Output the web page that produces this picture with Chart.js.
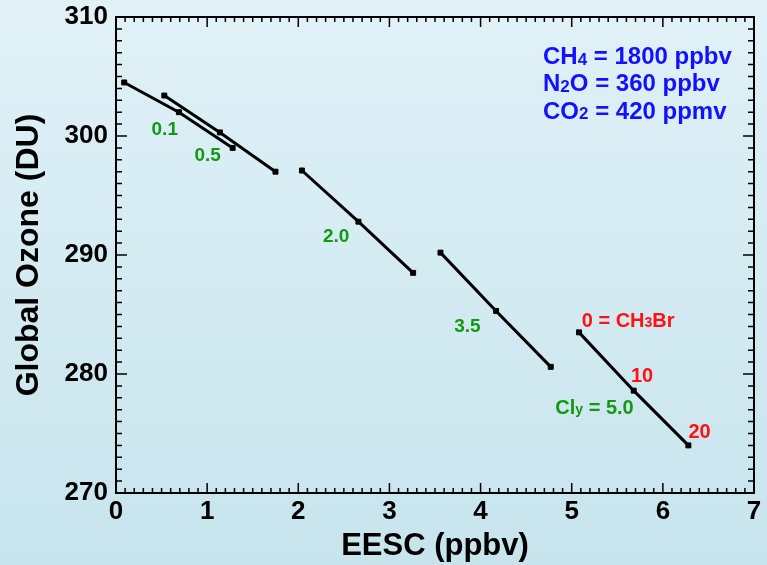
<!DOCTYPE html>
<html>
<head>
<meta charset="utf-8">
<script src="https://cdn.jsdelivr.net/npm/chart.js@4"></script>
<style>
  html, body { margin: 0; padding: 0; }
  #wrap { width: 767px; height: 565px; }
</style>
</head>
<body>
<div id="wrap"><canvas id="c"></canvas></div>
<script>
// EESC (ppbv) / global ozone (DU) for each Cly case, points at CH3Br = 0, 10, 20
const clyLabels = ['0.1', '0.5', '2.0', '3.5', '5.0'];
const eescValues = [
  [0.09, 0.69, 1.28],
  [0.53, 1.14, 1.75],
  [2.04, 2.66, 3.26],
  [3.56, 4.17, 4.77],
  [5.08, 5.68, 6.28]
];
const ozoneValues = [
  [304.5, 302.0, 299.0],
  [303.4, 300.3, 297.0],
  [297.1, 292.8, 288.5],
  [290.2, 285.3, 280.6],
  [283.5, 278.6, 274.0]
];
const xTicks = [0, 1, 2, 3, 4, 5, 6, 7];
const yTicks = [270, 280, 290, 300, 310];

const FONT = '"Liberation Sans", Arial, Helvetica, sans-serif';
const GREEN = '#119911';
const RED = '#ff1111';
const BLUE = '#1111ff';

// text labels, placed in data units (left edge, vertical middle)
const notes = [
  { x: 0.39, y: 300.5, color: GREEN, size: 19, parts: [['0.1']] },
  { x: 0.86, y: 298.3, color: GREEN, size: 19, parts: [['0.5']] },
  { x: 2.27, y: 291.5, color: GREEN, size: 19, parts: [['2.0']] },
  { x: 3.71, y: 284.0, color: GREEN, size: 19, parts: [['3.5']] },
  { x: 4.82, y: 277.1, color: GREEN, size: 20, parts: [['Cl'], ['y', 1], [' = 5.0']] },
  { x: 5.11, y: 284.45, color: RED, size: 20, parts: [['0 = CH'], ['3', 1], ['Br']] },
  { x: 5.65, y: 279.8, color: RED, size: 20, parts: [['10']] },
  { x: 6.28, y: 275.1, color: RED, size: 20, parts: [['20']] },
  { x: 4.685, y: 306.6, color: BLUE, size: 24, parts: [['CH'], ['4', 1], [' = 1800 ppbv']] },
  { x: 4.685, y: 304.3, color: BLUE, size: 24, parts: [['N'], ['2', 1], ['O = 360 ppbv']] },
  { x: 4.685, y: 302.0, color: BLUE, size: 24, parts: [['CO'], ['2', 1], [' = 420 ppmv']] }
];

const datasets = clyLabels.map((cly, i) => ({
  label: 'Cly = ' + cly,
  data: eescValues[i].map((x, j) => ({ x, y: ozoneValues[i][j] })),
  showLine: true,
  borderColor: '#000',
  backgroundColor: '#000',
  borderWidth: 3,
  pointRadius: 3.5,
  pointStyle: 'rect',
  pointBorderWidth: 1
}));

const backdrop = {
  id: 'backdrop',
  beforeDraw(chart) {
    const { ctx, width, height } = chart;
    const g = ctx.createLinearGradient(0, 0, 0, height);
    g.addColorStop(0, '#e1f1f7');
    g.addColorStop(1, '#c7e4ed');
    ctx.save();
    ctx.fillStyle = g;
    ctx.fillRect(0, 0, width, height);
    ctx.restore();
  }
};

// inward ticks on all four sides plus the text notes
const frame = {
  id: 'frame',
  afterDatasetsDraw(chart) {
    const { ctx, chartArea: a, scales: { x, y } } = chart;
    ctx.save();
    ctx.strokeStyle = '#000';
    ctx.lineWidth = 1.5;
    ctx.beginPath();
    for (let i = 0; i <= 70; i++) {
      const px = x.getPixelForValue(i / 10);
      const len = i % 10 === 0 ? 10 : 5;
      ctx.moveTo(px, a.bottom); ctx.lineTo(px, a.bottom - len);
      ctx.moveTo(px, a.top); ctx.lineTo(px, a.top + len);
    }
    for (let v = 270; v <= 310; v++) {
      const py = y.getPixelForValue(v);
      const len = v % 10 === 0 ? 11 : 6;
      ctx.moveTo(a.left, py); ctx.lineTo(a.left + len, py);
      ctx.moveTo(a.right, py); ctx.lineTo(a.right - len, py);
    }
    ctx.stroke();
    ctx.lineWidth = 2;
    ctx.strokeRect(a.left, a.top, a.right - a.left, a.bottom - a.top);

    ctx.textBaseline = 'middle';
    ctx.textAlign = 'left';
    notes.forEach(n => {
      let px = x.getPixelForValue(n.x);
      const py = y.getPixelForValue(n.y);
      ctx.fillStyle = n.color;
      n.parts.forEach(([t, sub]) => {
        const s = sub ? Math.round(n.size * 0.72) : n.size;
        ctx.font = 'bold ' + s + 'px ' + FONT;
        ctx.fillText(t, px, sub ? py + n.size * 0.1 : py);
        px += ctx.measureText(t).width;
      });
    });
    ctx.restore();
  }
};

new Chart(document.getElementById('c'), {
  type: 'scatter',
  data: { datasets },
  plugins: [backdrop, frame],
  options: {
    responsive: true,
    maintainAspectRatio: false,
    animation: false,
    layout: { padding: { top: 17, right: 13, left: 0, bottom: 0 } },
    plugins: { legend: { display: false }, tooltip: { enabled: false } },
    scales: {
      x: {
        type: 'linear',
        min: 0,
        max: 7,
        afterFit: s => { s.height = 72; s.paddingLeft = 0; s.paddingRight = 0; },
        afterBuildTicks: s => { s.ticks = xTicks.map(v => ({ value: v })); },
        grid: { display: false, drawTicks: false },
        border: { display: false },
        ticks: { color: '#000', padding: 3, font: { family: FONT, size: 26, weight: 'bold' } },
        title: {
          display: true,
          text: 'EESC (ppbv)',
          color: '#000',
          padding: { top: 0, bottom: 0 },
          font: { family: FONT, size: 31, weight: 'bold', lineHeight: 1.2 }
        }
      },
      y: {
        type: 'linear',
        min: 270,
        max: 310,
        afterFit: s => { s.width = 116; s.paddingTop = 0; s.paddingBottom = 0; },
        afterBuildTicks: s => { s.ticks = yTicks.map(v => ({ value: v })); },
        grid: { display: false, drawTicks: false },
        border: { display: false },
        ticks: { color: '#000', padding: 8, font: { family: FONT, size: 26, weight: 'bold' } },
        title: {
          display: true,
          text: 'Global Ozone (DU)',
          color: '#000',
          padding: { top: 10, bottom: 0 },
          font: { family: FONT, size: 32, weight: 'bold', lineHeight: 1.2 }
        }
      }
    }
  }
});
</script>
</body>
</html>
